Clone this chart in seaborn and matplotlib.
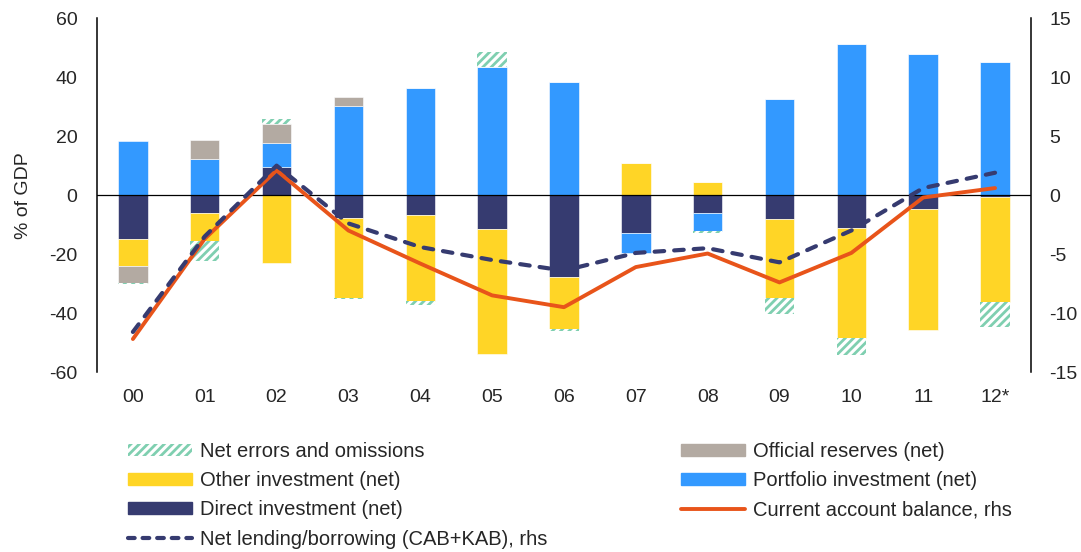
import numpy as np
import pandas as pd
import matplotlib
matplotlib.use("Agg")
import matplotlib.pyplot as plt
from matplotlib.patches import Patch
from matplotlib.lines import Line2D
import seaborn as sns

years = ["00", "01", "02", "03", "04", "05", "06", "07", "08", "09", "10", "11", "12*"]
direct = [-14.8, -6.0, 9.4, -7.9, -6.6, -11.4, -27.7, -13.0, -6.0, -8.2, -11.0, -4.8, -0.8]
other = [-9.4, -9.6, -23.1, -27.0, -29.4, -42.4, -17.7, 10.9, 4.3, -26.7, -37.5, -40.8, -35.3]
portfolio = [18.3, 12.1, 8.4, 30.3, 36.2, 43.6, 38.2, -6.7, -6.1, 32.5, 51.3, 47.8, 45.1]
official = [-5.6, 6.6, 6.4, 2.9, 0.0, 0.0, 0.0, 0.0, 0.0, 0.0, 0.0, 0.0, 0.0]
errors = [-0.3, -6.6, 1.6, -0.3, -1.2, 4.9, -0.6, 0.0, -0.6, -5.3, -5.6, 0.0, -8.6]
cab = [-12.2, -3.7, 2.1, -3.0, -5.8, -8.5, -9.5, -6.1, -4.95, -7.4, -4.9, -0.2, 0.6]
net_lending = [-11.6, -3.5, 2.5, -2.4, -4.4, -5.5, -6.4, -4.9, -4.5, -5.7, -3.0, 0.6, 1.9]

C_DIRECT = "#363b70"
C_OTHER = "#ffd526"
C_PORT = "#3399ff"
C_OFF = "#b3aaa2"
C_ERR = "#7fcfb0"
C_CAB = "#e8541a"

sns.set_style("white")
plt.rcParams["font.family"] = ["Liberation Sans", "DejaVu Sans"]
plt.rcParams["hatch.linewidth"] = 2.0
plt.rcParams["axes.unicode_minus"] = False

fig = plt.figure(figsize=(10.81, 5.52), dpi=100)
ax = fig.add_axes([0.0897, 0.326, 0.864, 0.641])

x = np.arange(len(years))
pos_bottom = np.zeros(len(years))
neg_bottom = np.zeros(len(years))
series = [
    ("Direct investment (net)", direct, dict(facecolor=C_DIRECT, edgecolor="white", linewidth=0.4)),
    ("Other investment (net)", other, dict(facecolor=C_OTHER, edgecolor="white", linewidth=0.4)),
    ("Portfolio investment (net)", portfolio, dict(facecolor=C_PORT, edgecolor="white", linewidth=0.4)),
    ("Official reserves (net)", official, dict(facecolor=C_OFF, edgecolor="white", linewidth=0.4)),
    ("Net errors and omissions", errors, dict(facecolor="white", edgecolor=C_ERR, hatch="////", linewidth=0)),
]
width = 0.41
for name, vals, style in series:
    v = np.array(vals, dtype=float)
    bottoms = np.where(v >= 0, pos_bottom, neg_bottom)
    ax.bar(x, v, width=width, bottom=bottoms, zorder=2, **style)
    pos_bottom = pos_bottom + np.where(v > 0, v, 0)
    neg_bottom = neg_bottom + np.where(v < 0, v, 0)

ax.axhline(0, color="black", lw=0.9, zorder=3)
ax.set_xlim(-0.5, len(years) - 0.5)
ax.set_ylim(-60, 60)
ax.set_yticks(np.arange(-60, 61, 20))
ax.set_xticks(x)
ax.set_xticklabels(years)
ax.set_ylabel("% of GDP", fontsize=14, labelpad=12)
ax.tick_params(axis="both", labelsize=14, length=0)
ax.tick_params(axis="x", pad=12)
ax.tick_params(axis="y", pad=14)
for s in ["top", "bottom"]:
    ax.spines[s].set_visible(False)
ax.spines["left"].set_color("black")
ax.spines["left"].set_linewidth(1.1)
ax.spines["right"].set_visible(False)

ax2 = ax.twinx()
df = pd.DataFrame({"x": x, "cab": cab, "nl": net_lending})
sns.lineplot(data=df, x="x", y="cab", ax=ax2, color=C_CAB, lw=2.8, zorder=4)
sns.lineplot(data=df, x="x", y="nl", ax=ax2, color=C_DIRECT, lw=3.0, zorder=5)
ax2.lines[0].set_solid_capstyle("round")
ax2.lines[-1].set_dashes([2.3, 2.4])
ax2.lines[-1].set_dash_capstyle("round")
ax2.set_ylim(-15, 15)
ax2.set_yticks(np.arange(-15, 16, 5))
ax2.set_ylabel("")
ax2.set_xlabel("")
ax2.tick_params(axis="y", labelsize=14, length=0, pad=13)
for s in ["top", "bottom", "left"]:
    ax2.spines[s].set_visible(False)
ax2.spines["right"].set_color("black")
ax2.spines["right"].set_linewidth(1.1)
ax.set_xlabel("")

handles = [
    Patch(facecolor="white", edgecolor=C_ERR, hatch="////", linewidth=0),
    Patch(color=C_OTHER),
    Patch(color=C_DIRECT),
    Line2D([0], [0], color=C_DIRECT, lw=3.0, dashes=[1.6, 1.9], dash_capstyle="round"),
    Patch(color=C_OFF),
    Patch(color=C_PORT),
    Line2D([0], [0], color=C_CAB, lw=2.8, solid_capstyle="round"),
]
labels = [
    "Net errors and omissions",
    "Other investment (net)",
    "Direct investment (net)",
    "Net lending/borrowing (CAB+KAB), rhs",
    "Official reserves (net)",
    "Portfolio investment (net)",
    "Current account balance, rhs",
]
fig.legend(handles, labels, ncol=2, loc="upper left", bbox_to_anchor=(0.109, 0.218),
           frameon=False, fontsize=14.5, handlelength=3.2, handleheight=0.55,
           handletextpad=0.4, columnspacing=6.6, labelspacing=0.51, borderpad=0)

fig.savefig("out.png", dpi=100)
